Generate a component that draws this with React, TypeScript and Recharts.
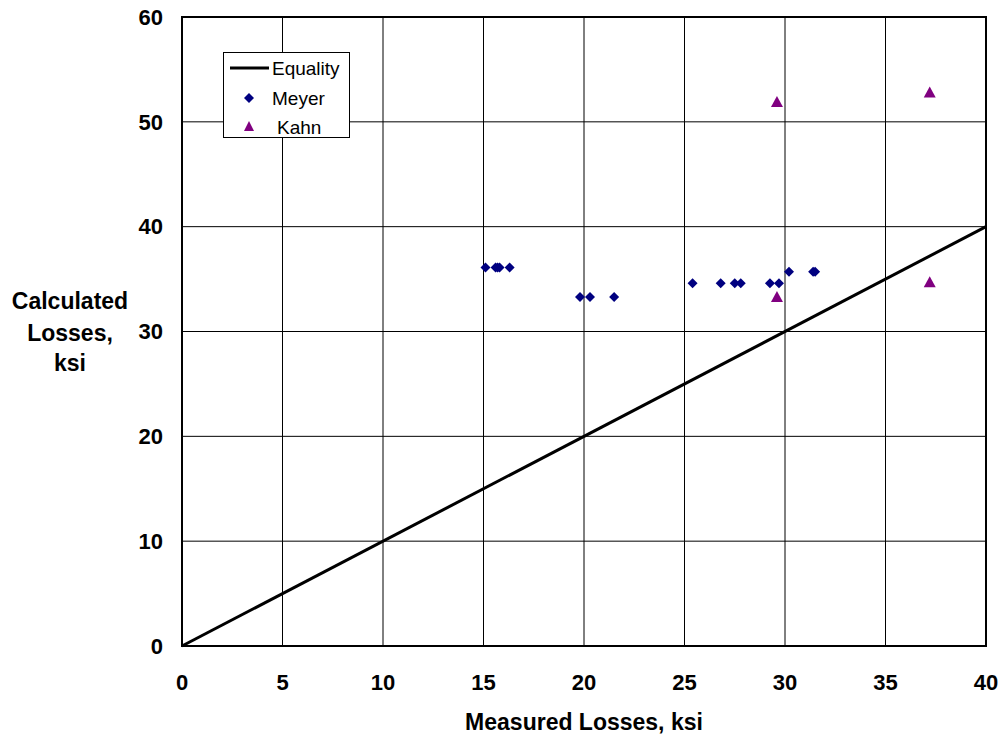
import React from 'react';
import {
  ScatterChart,
  Scatter,
  XAxis,
  YAxis,
  CartesianGrid,
  ReferenceArea,
} from 'recharts';

const FONT = '"Liberation Sans", Arial, sans-serif';

const xTicks = [0, 5, 10, 15, 20, 25, 30, 35, 40];
const yTicks = [0, 10, 20, 30, 40, 50, 60];

// measured vs calculated losses (ksi)
const meyerMeasured = [15.1, 15.6, 15.7, 15.8, 16.3, 19.8, 20.3, 21.5, 25.4, 26.8, 27.5, 27.8, 29.25, 29.7, 30.2, 31.4, 31.5];
const meyerCalculated = [36.1, 36.1, 36.1, 36.1, 36.1, 33.3, 33.3, 33.3, 34.6, 34.6, 34.6, 34.6, 34.6, 34.6, 35.7, 35.7, 35.7];

const kahnMeasured = [29.6, 37.2, 29.6, 37.2];
const kahnCalculated = [51.9, 52.8, 33.3, 34.7];

const equalityX = [0, 40];
const equalityY = [0, 40];

const toPoints = (xs: number[], ys: number[]) => xs.map((x, i) => ({ x, y: ys[i] }));

const meyerData = toPoints(meyerMeasured, meyerCalculated);
const kahnData = toPoints(kahnMeasured, kahnCalculated);
const equalityData = toPoints(equalityX, equalityY);

const NAVY = '#000080';
const PURPLE = '#800080';

const Diamond = ({ cx, cy }: any) => (
  <polygon points={`${cx},${cy - 5} ${cx + 5},${cy} ${cx},${cy + 5} ${cx - 5},${cy}`} fill={NAVY} />
);

const Triangle = ({ cx, cy }: any) => (
  <polygon points={`${cx},${cy - 6} ${cx + 6},${cy + 5} ${cx - 6},${cy + 5}`} fill={PURPLE} />
);

const NoMarker = () => <g />;

const tickStyle = { fontFamily: FONT, fontSize: 22, fontWeight: 700, fill: '#000' };

const XTitle = () => (
  <text x={584} y={730} textAnchor="middle" fontFamily={FONT} fontSize={23} fontWeight={700} fill="#000">
    Measured Losses, ksi
  </text>
);

const YTitle = () => (
  <text textAnchor="middle" fontFamily={FONT} fontSize={23} fontWeight={700} fill="#000">
    <tspan x={70} y={309}>Calculated</tspan>
    <tspan x={70} y={341}>Losses,</tspan>
    <tspan x={70} y={371}>ksi</tspan>
  </text>
);

const LegendBox = () => (
  <div
    style={{
      position: 'absolute',
      left: 223,
      top: 52,
      width: 125,
      height: 84,
      border: '1.5px solid #000',
      background: '#fff',
      fontFamily: FONT,
      fontSize: 19,
      color: '#000',
    }}
  >
    <svg width={125} height={84} style={{ position: 'absolute', left: 0, top: 0 }}>
      <line x1={6} y1={15} x2={45} y2={15} stroke="#000" strokeWidth={3} />
      <polygon points="25,40 30,45 25,50 20,45" fill={NAVY} />
      <polygon points="25,68 30,78 20,78" fill={PURPLE} />
      <text x={48} y={22} fontFamily={FONT} fontSize={19}>Equality</text>
      <text x={48} y={52} fontFamily={FONT} fontSize={19}>Meyer</text>
      <text x={53} y={81} fontFamily={FONT} fontSize={19}>Kahn</text>
    </svg>
  </div>
);

export default function App() {
  return (
    <div style={{ position: 'absolute', left: 0, top: 0, width: 1005, height: 742, background: '#fff' }}>
      <ScatterChart width={1005} height={742} margin={{ top: 17, right: 19, bottom: 0, left: 0 }}>
        <CartesianGrid stroke="#000" strokeWidth={1} />
        <XAxis
          type="number"
          dataKey="x"
          domain={[0, 40]}
          ticks={xTicks}
          interval={0}
          height={96}
          tickSize={0}
          tickMargin={28}
          tick={tickStyle}
          axisLine={{ stroke: '#000', strokeWidth: 2 }}
          label={<XTitle />}
        />
        <YAxis
          type="number"
          dataKey="y"
          domain={[0, 60]}
          ticks={yTicks}
          interval={0}
          width={182}
          tickSize={0}
          tickMargin={19}
          tick={tickStyle}
          axisLine={{ stroke: '#000', strokeWidth: 2 }}
          label={<YTitle />}
        />
        <ReferenceArea x1={0} x2={40} y1={0} y2={60} fill="none" stroke="#000" strokeWidth={2} />
        <Scatter
          name="Equality"
          data={equalityData}
          line={{ stroke: '#000', strokeWidth: 3 }}
          shape={<NoMarker />}
          isAnimationActive={false}
        />
        <Scatter name="Meyer" data={meyerData} shape={<Diamond />} isAnimationActive={false} />
        <Scatter name="Kahn" data={kahnData} shape={<Triangle />} isAnimationActive={false} />
      </ScatterChart>
      <LegendBox />
    </div>
  );
}
